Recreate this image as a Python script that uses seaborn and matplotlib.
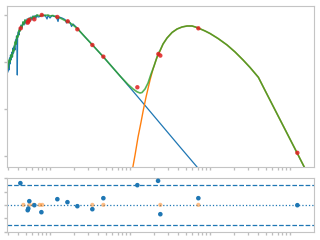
import numpy as np
import pandas as pd
import matplotlib
matplotlib.use("Agg")
import matplotlib.pyplot as plt
import seaborn as sns

# ---------------- data (log10 wavelength [um], log10 flux [arb.]) ----------------
star_logw = [-0.525, -0.519, -0.5125, -0.506, -0.500, -0.494, -0.4875, -0.475, -0.469, -0.4625,
             -0.456, -0.450, -0.4375, -0.431, -0.425, -0.419, -0.4125, -0.409, -0.405, -0.400,
             -0.3875, -0.381, -0.375, -0.3625, -0.350, -0.3375, -0.325, -0.3125, -0.300, -0.2875,
             -0.275, -0.2625, -0.250, -0.2375, -0.225, -0.2125, -0.200, -0.1875, -0.175, -0.1625,
             -0.150, -0.125, -0.100, -0.075, -0.0625, -0.0375, -0.025, 0.000, 0.025, 0.050,
             0.075, 0.100, 0.1125, 0.150, 0.1875, 0.206, 0.219, 0.250, 0.269, 0.2875,
             0.325, 0.350, 0.375, 0.4375, 0.525, 0.6625, 0.875, 1.125, 1.375, 1.625, 1.875]
star_logf = [-1.213, -1.000, -1.170, -0.915, -1.043, -0.851, -0.957, -0.787, -0.894, -0.702,
             -0.809, -0.660, -0.745, -0.532, -0.617, -0.447, -0.532, -1.277, -0.447, -0.362,
             -0.426, -0.277, -0.340, -0.213, -0.277, -0.149, -0.213, -0.106, -0.191, -0.085,
             -0.170, -0.064, -0.128, -0.043, -0.106, -0.021, -0.085, -0.011, -0.064, 0.000,
             -0.043, -0.032, 0.000, -0.021, 0.000, -0.085, -0.011, -0.064, -0.011, -0.032,
             -0.021, -0.138, -0.043, -0.064, -0.096, -0.170, -0.117, -0.160, -0.245, -0.191,
             -0.255, -0.287, -0.351, -0.468, -0.628, -0.883, -1.298, -1.798, -2.304, -2.809, -3.309]

dust_logw = [1.019, 1.0375, 1.0625, 1.100, 1.1375, 1.166, 1.200, 1.250, 1.2875, 1.325, 1.350,
             1.375, 1.4125, 1.4625, 1.525, 1.5875, 1.650, 1.7125, 1.775, 1.825, 1.875, 1.9375,
             2.000, 2.100, 2.2125, 2.3125, 2.4125, 2.500, 2.604, 2.6875, 2.8125, 2.9375, 3.0625, 3.200]
dust_logf = [-3.404, -3.213, -2.979, -2.596, -2.277, -2.021, -1.745, -1.383, -1.149, -0.957, -0.851,
             -0.766, -0.617, -0.489, -0.372, -0.298, -0.255, -0.234, -0.234, -0.260, -0.294, -0.340,
             -0.394, -0.500, -0.638, -0.787, -0.957, -1.117, -1.326, -1.606, -2.021, -2.436, -2.851, -3.311]

total_logw = [-0.525, -0.5125, -0.500, -0.4875, -0.475, -0.4625, -0.450, -0.4375, -0.425, -0.4125,
              -0.400, -0.3875, -0.375, -0.3625, -0.350, -0.3375, -0.325, -0.3125, -0.300, -0.275,
              -0.2625, -0.250, -0.225, -0.2125, -0.1875, -0.1625, -0.125, -0.100, -0.0625, -0.025,
              0.000, 0.0375, 0.075, 0.100, 0.125, 0.1625, 0.200, 0.250, 0.2875, 0.325,
              0.375, 0.4375, 0.525, 0.6625, 0.875, 0.975, 1.0375, 1.0875, 1.125, 1.150,
              1.1875, 1.225, 1.2625, 1.300, 1.350, 1.375, 1.4125, 1.4625, 1.525, 1.5875,
              1.650, 1.7125, 1.775, 1.825, 1.875, 1.9375, 2.000, 2.100, 2.2125, 2.3125,
              2.4125, 2.500, 2.604, 2.6875, 2.8125, 2.9375, 3.0625, 3.200]
total_logf = [-1.128, -0.957, -1.000, -0.851, -0.894, -0.745, -0.766, -0.574, -0.617, -0.447,
              -0.468, -0.319, -0.340, -0.234, -0.255, -0.149, -0.191, -0.106, -0.149, -0.085,
              -0.128, -0.064, -0.074, -0.032, -0.043, 0.000, -0.021, 0.000, -0.011, 0.000,
              -0.021, -0.011, -0.043, -0.053, -0.064, -0.096, -0.128, -0.170, -0.213, -0.266,
              -0.351, -0.468, -0.628, -0.883, -1.298, -1.479, -1.574, -1.634, -1.660, -1.649,
              -1.574, -1.447, -1.255, -1.085, -0.830, -0.755, -0.617, -0.489, -0.372, -0.298,
              -0.255, -0.234, -0.234, -0.260, -0.294, -0.340, -0.394, -0.500, -0.638, -0.787,
              -0.957, -1.117, -1.326, -1.606, -2.021, -2.436, -2.851, -3.311]

# photometry (wavelength um, flux arb.)
phot_wave = [0.430, 0.526, 0.535, 0.551, 0.637, 0.788, 1.234, 1.664, 2.195, 3.38,
             4.64, 12.34, 22.6, 23.9, 71.4, 1233.0]
phot_flux = [0.521, 0.686, 0.727, 0.783, 0.810, 1.000, 0.907, 0.734, 0.496, 0.230,
             0.130, 0.0290, 0.148, 0.137, 0.521, 0.00117]
residual = [3.25, -0.8, -0.55, 0.55, -0.05, -1.1, 0.85, 0.4, -0.2, -0.65,
            1.0, 2.95, 3.6, -1.4, 1.0, -0.05]
resid_wave = [0.426, 0.526, 0.535, 0.551, 0.637, 0.780, 1.234, 1.650, 2.195, 3.38,
              4.64, 12.34, 22.4, 23.9, 71.4, 1233.0]
zero_wave = [0.464, 0.551, 0.618, 0.743, 0.801, 3.38, 4.64, 23.9, 71.4]
zero_resid = [0, 0, 0, 0, 0, 0, 0, 0, 0]
sigma_band = [-3, 3]

# ---------------- style ----------------
sns.set_style("white", rc={"axes.edgecolor": "#c4c4c4", "axes.linewidth": 2.0})

fig = plt.figure(figsize=(3.2, 2.4), dpi=100)
ax = fig.add_axes([0.0234, 0.3054, 0.9566, 0.6713])
axr = fig.add_axes([0.0234, 0.0333, 0.9566, 0.2263])

star = pd.DataFrame({"w": 10 ** np.array(star_logw), "f": 10 ** np.array(star_logf)})
dust = pd.DataFrame({"w": 10 ** np.array(dust_logw), "f": 10 ** np.array(dust_logf)})
total = pd.DataFrame({"w": 10 ** np.array(total_logw), "f": 10 ** np.array(total_logf)})
phot = pd.DataFrame({"w": phot_wave, "f": phot_flux})

sns.lineplot(data=star, x="w", y="f", ax=ax, color="#1f77b4", lw=0.9, estimator=None, sort=False)
sns.lineplot(data=dust, x="w", y="f", ax=ax, color="#ff7f0e", lw=1.0, estimator=None, sort=False)
sns.lineplot(data=total, x="w", y="f", ax=ax, color="#2ca02c", lw=1.2, alpha=0.8,
             estimator=None, sort=False)
sns.scatterplot(data=phot, x="w", y="f", ax=ax, color="#e02020", s=10, alpha=0.85,
                edgecolor="none", zorder=5)

ax.set_xscale("log")
ax.set_yscale("log")
ax.set_xlim(0.294, 1968)
ax.set_ylim(5.92e-4, 1.585)

# residuals
res = pd.DataFrame({"w": resid_wave, "r": residual})
zer = pd.DataFrame({"w": zero_wave, "r": zero_resid})
axr.axhline(0, color="#1f77b4", lw=0.9, ls=":")
for s in sigma_band:
    axr.axhline(s, color="#1f77b4", lw=0.9, ls="--")
sns.scatterplot(data=zer, x="w", y="r", ax=axr, color="#ff7f0e", s=9, alpha=0.5,
                edgecolor="none", zorder=4)
sns.scatterplot(data=res, x="w", y="r", ax=axr, color="#1f77b4", s=11,
                edgecolor="none", zorder=5)
axr.set_xscale("log")
axr.set_xlim(0.294, 1968)
axr.set_ylim(-4.07, 4.07)
axr.set_yticks([-4, -2, 0, 2, 4])

for a in (ax, axr):
    a.set_xlabel("")
    a.set_ylabel("")
    a.tick_params(which="both", bottom=True, left=True, labelbottom=False, labelleft=False,
                  color="#bdbdbd", direction="out")
    a.tick_params(which="major", length=2.5, width=1.0)
    a.tick_params(which="minor", length=1.8, width=0.9)
ax.tick_params(axis="y", which="minor", left=False)
axr.tick_params(axis="y", which="minor", left=False)

fig.savefig("out.png", dpi=100)
